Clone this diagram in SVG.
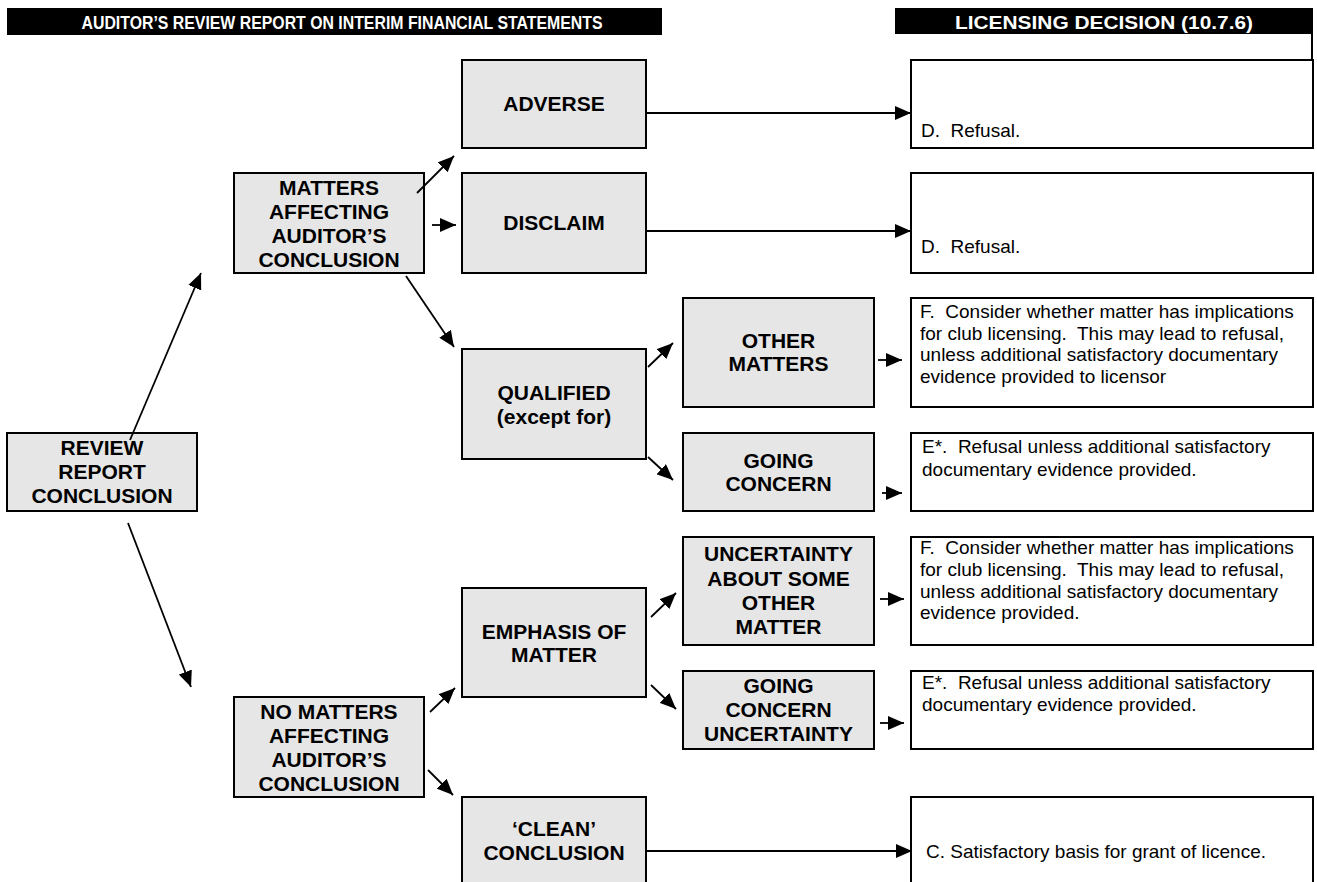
<svg xmlns="http://www.w3.org/2000/svg" width="1317" height="882" viewBox="0 0 1317 882">
<defs>
<style>
.g{fill:#e6e6e6;stroke:#000;stroke-width:2}
.w{fill:#fff;stroke:#000;stroke-width:2}
.t{font-family:"Liberation Sans",Arial,sans-serif;font-weight:bold;font-size:21px;text-anchor:middle;fill:#000}
.b{font-family:"Liberation Sans",Arial,sans-serif;font-size:19px;fill:#000}
.h{font-family:"Liberation Sans",Arial,sans-serif;font-weight:bold;font-size:18px;text-anchor:middle;fill:#fff}
.c{stroke:#000;stroke-width:1.8;fill:none;marker-end:url(#ah)}
</style>
<marker id="ah" markerUnits="userSpaceOnUse" markerWidth="16" markerHeight="14" refX="16" refY="7" orient="auto">
<path d="M0,0 L16,7 L0,14 z" fill="#000"/>
</marker>
</defs>
<rect width="1317" height="882" fill="#fff"/>

<g id="header-left">
<rect x="7" y="8" width="655" height="27" fill="#000"/>
<text class="h" x="342" y="28.5" textLength="521" lengthAdjust="spacingAndGlyphs">AUDITOR’S REVIEW REPORT ON INTERIM FINANCIAL STATEMENTS</text>
</g>
<g id="header-right">
<rect x="895" y="8" width="418" height="26" fill="#000"/>
<line x1="1312" y1="33" x2="1312" y2="61" stroke="#000" stroke-width="2"/>
<text class="h" x="1104" y="29" textLength="298" lengthAdjust="spacingAndGlyphs">LICENSING DECISION (10.7.6)</text>
</g>

<g id="review">
<rect class="g" x="7" y="433" width="190" height="78"/>
<text class="t"><tspan x="102" y="454.5">REVIEW</tspan><tspan x="102" y="479">REPORT</tspan><tspan x="102" y="502.5">CONCLUSION</tspan></text>
</g>
<g id="matters">
<rect class="g" x="234" y="173" width="190" height="100"/>
<text class="t"><tspan x="329" y="194.5">MATTERS</tspan><tspan x="329" y="218.5">AFFECTING</tspan><tspan x="329" y="242.5">AUDITOR’S</tspan><tspan x="329" y="266.5">CONCLUSION</tspan></text>
</g>
<g id="no-matters">
<rect class="g" x="234" y="697" width="190" height="100"/>
<text class="t"><tspan x="329" y="718.5">NO MATTERS</tspan><tspan x="329" y="742.5">AFFECTING</tspan><tspan x="329" y="766.5">AUDITOR’S</tspan><tspan x="329" y="790.5">CONCLUSION</tspan></text>
</g>
<g id="adverse">
<rect class="g" x="462" y="60" width="184" height="88"/>
<text class="t" x="554" y="110.5">ADVERSE</text>
</g>
<g id="disclaim">
<rect class="g" x="462" y="173" width="184" height="100"/>
<text class="t" x="554" y="230">DISCLAIM</text>
</g>
<g id="qualified">
<rect class="g" x="462" y="349" width="184" height="110"/>
<text class="t"><tspan x="554" y="399.5">QUALIFIED</tspan><tspan x="554" y="423.5">(except for)</tspan></text>
</g>
<g id="emphasis">
<rect class="g" x="462" y="588" width="184" height="109"/>
<text class="t"><tspan x="554" y="638.5">EMPHASIS OF</tspan><tspan x="554" y="661.5">MATTER</tspan></text>
</g>
<g id="clean">
<rect class="g" x="462" y="797" width="184" height="100"/>
<text class="t"><tspan x="554" y="835.5">‘CLEAN’</tspan><tspan x="554" y="859.5">CONCLUSION</tspan></text>
</g>
<g id="other-matters">
<rect class="g" x="683" y="298" width="191" height="109"/>
<text class="t"><tspan x="778.5" y="348">OTHER</tspan><tspan x="778.5" y="371">MATTERS</tspan></text>
</g>
<g id="going-concern">
<rect class="g" x="683" y="433" width="191" height="78"/>
<text class="t"><tspan x="778.5" y="467.5">GOING</tspan><tspan x="778.5" y="490.5">CONCERN</tspan></text>
</g>
<g id="uncertainty-other">
<rect class="g" x="683" y="537" width="191" height="108"/>
<text class="t"><tspan x="778.5" y="561">UNCERTAINTY</tspan><tspan x="778.5" y="585.5">ABOUT SOME</tspan><tspan x="778.5" y="610">OTHER</tspan><tspan x="778.5" y="634">MATTER</tspan></text>
</g>
<g id="going-concern-uncertainty">
<rect class="g" x="683" y="671" width="191" height="78"/>
<text class="t"><tspan x="778.5" y="692.5">GOING</tspan><tspan x="778.5" y="716.5">CONCERN</tspan><tspan x="778.5" y="740.5">UNCERTAINTY</tspan></text>
</g>

<g id="decision-d1">
<rect class="w" x="911" y="60" width="402" height="88"/>
<text class="b" x="921" y="137" xml:space="preserve">D.  Refusal.</text>
</g>
<g id="decision-d2">
<rect class="w" x="911" y="173" width="402" height="100"/>
<text class="b" x="921" y="253" xml:space="preserve">D.  Refusal.</text>
</g>
<g id="decision-f1">
<rect class="w" x="911" y="298" width="402" height="109"/>
<text class="b" xml:space="preserve"><tspan x="920" y="318">F.  Consider whether matter has implications</tspan><tspan x="920" y="339.5">for club licensing.  This may lead to refusal,</tspan><tspan x="920" y="361">unless additional satisfactory documentary</tspan><tspan x="920" y="382.5">evidence provided to licensor</tspan></text>
</g>
<g id="decision-e1">
<rect class="w" x="911" y="433" width="402" height="78"/>
<text class="b" xml:space="preserve"><tspan x="922" y="453">E*.  Refusal unless additional satisfactory</tspan><tspan x="922" y="475.5">documentary evidence provided.</tspan></text>
</g>
<g id="decision-f2">
<rect class="w" x="911" y="537" width="402" height="108"/>
<text class="b" xml:space="preserve"><tspan x="920" y="554">F.  Consider whether matter has implications</tspan><tspan x="920" y="576">for club licensing.  This may lead to refusal,</tspan><tspan x="920" y="597.5">unless additional satisfactory documentary</tspan><tspan x="920" y="619">evidence provided.</tspan></text>
</g>
<g id="decision-e2">
<rect class="w" x="911" y="671" width="402" height="78"/>
<text class="b" xml:space="preserve"><tspan x="922" y="689">E*.  Refusal unless additional satisfactory</tspan><tspan x="922" y="711">documentary evidence provided.</tspan></text>
</g>
<g id="decision-c">
<rect class="w" x="911" y="797" width="402" height="100"/>
<text class="b" x="926" y="858">C. Satisfactory basis for grant of licence.</text>
</g>

<g id="connectors">
<line class="c" x1="130" y1="440" x2="201" y2="273"/>
<line class="c" x1="128" y1="523" x2="191" y2="687"/>
<line class="c" x1="417" y1="193" x2="454" y2="156"/>
<line class="c" x1="432" y1="225" x2="456" y2="225"/>
<line class="c" x1="406" y1="276" x2="454" y2="347"/>
<line class="c" x1="646" y1="113" x2="911" y2="113"/>
<line class="c" x1="646" y1="231" x2="911" y2="231"/>
<line class="c" x1="648" y1="367" x2="673" y2="343"/>
<line class="c" x1="648" y1="457" x2="673" y2="480"/>
<line class="c" x1="878" y1="360" x2="902" y2="360"/>
<line class="c" x1="882" y1="493" x2="902" y2="493"/>
<line class="c" x1="430" y1="712" x2="455" y2="688"/>
<line class="c" x1="428" y1="770" x2="453" y2="795"/>
<line class="c" x1="651" y1="617" x2="676" y2="593"/>
<line class="c" x1="651" y1="685" x2="676" y2="709"/>
<line class="c" x1="880" y1="599" x2="904" y2="599"/>
<line class="c" x1="880" y1="723" x2="904" y2="723"/>
<line class="c" x1="647" y1="851" x2="912" y2="851"/>
</g>
</svg>
